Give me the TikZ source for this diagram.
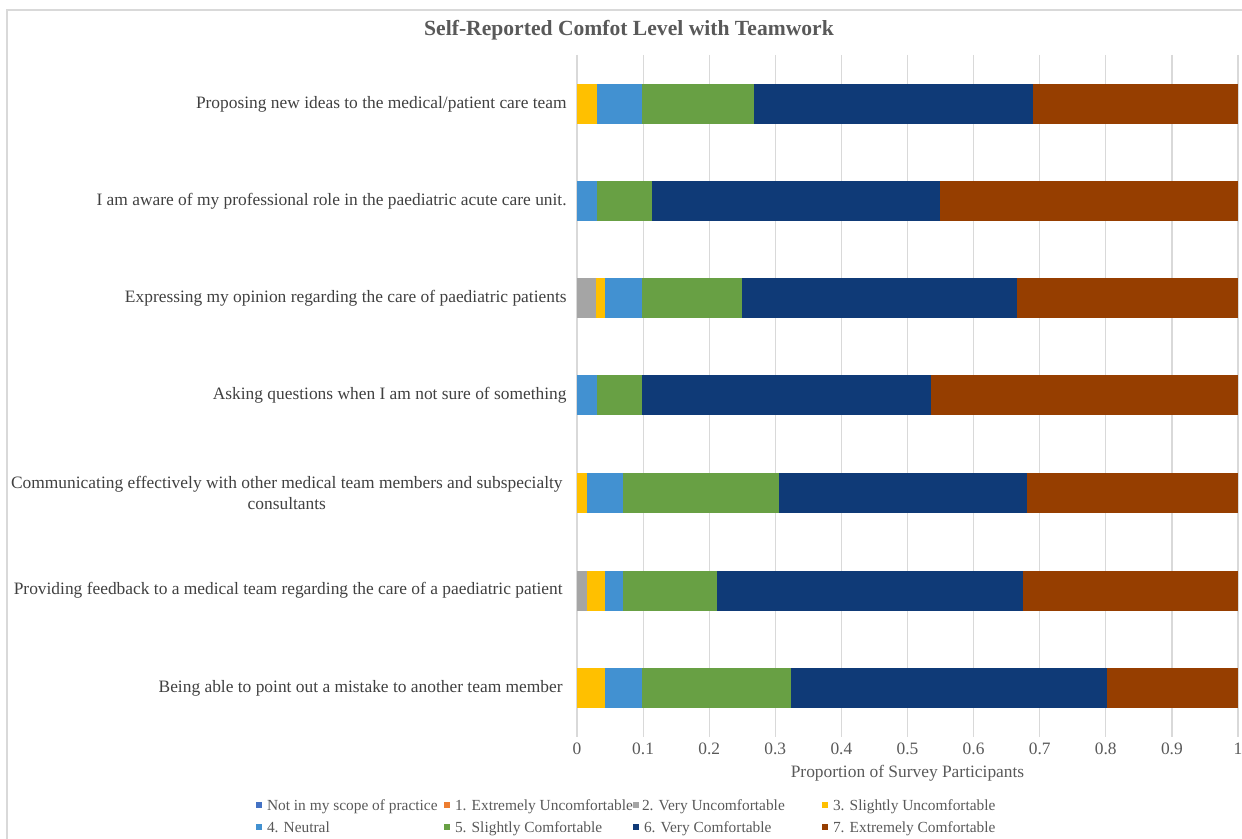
\documentclass[tikz,border=0pt]{standalone}
\usepackage{fontspec}
\setmainfont{Liberation Serif}
\usetikzlibrary{positioning}

\definecolor{scopeblue}{HTML}{4472C4}
\definecolor{extunc}{HTML}{ED7D31}
\definecolor{veryunc}{HTML}{A5A5A5}
\definecolor{slightunc}{HTML}{FFC000}
\definecolor{neutral}{HTML}{4291D1}
\definecolor{slightcom}{HTML}{68A044}
\definecolor{verycom}{HTML}{0F3A77}
\definecolor{extcom}{HTML}{963E00}
\definecolor{gridgray}{HTML}{D9D9D9}
\definecolor{textgray}{HTML}{404040}
\definecolor{titlegray}{HTML}{595959}

\tikzset{
  catlabel/.style={anchor=east, inner sep=0pt, text=textgray, font=\fontsize{8.7}{10.2}\selectfont},
  ticklabel/.style={inner sep=0pt, text=titlegray, font=\fontsize{8.7}{10.2}\selectfont},
  legmark/.style={inner sep=0pt, minimum size=3.2pt},
  legtext/.style={anchor=west, inner sep=0pt, text height=1.45ex, text depth=0.35ex, text=titlegray, font=\fontsize{7.7}{9}\selectfont},
}

\begin{document}
\begin{tikzpicture}[x=0.5pt, y=-0.5pt]
  \useasboundingbox (0,0) rectangle (1242,839);
  \draw[gridgray, line width=0.6pt] (7,839) -- (7,10) -- (1242,10);

  \node[font=\bfseries\fontsize{10.8}{12.5}\selectfont, text=titlegray, inner sep=0pt] (title) at (629,30) {Self-Reported Comfot Level with Teamwork};

  \begin{scope}[xshift=288.5pt, x=330.5pt, y=-0.5pt]
    \foreach \k in {0,0.1,...,1.01}
      \draw[gridgray, line width=0.6pt] (\k,55) -- (\k,737);

    \fill[slightunc] (0,84) rectangle (0.030,124);
    \fill[neutral] (0.030,84) rectangle (0.098,124);
    \fill[slightcom] (0.098,84) rectangle (0.268,124);
    \fill[verycom] (0.268,84) rectangle (0.690,124);
    \fill[extcom] (0.690,84) rectangle (1,124);

    \fill[neutral] (0,181) rectangle (0.030,221);
    \fill[slightcom] (0.030,181) rectangle (0.113,221);
    \fill[verycom] (0.113,181) rectangle (0.549,221);
    \fill[extcom] (0.549,181) rectangle (1,221);

    \fill[veryunc] (0,278.5) rectangle (0.028,318.5);
    \fill[slightunc] (0.028,278.5) rectangle (0.042,318.5);
    \fill[neutral] (0.042,278.5) rectangle (0.098,318.5);
    \fill[slightcom] (0.098,278.5) rectangle (0.250,318.5);
    \fill[verycom] (0.250,278.5) rectangle (0.666,318.5);
    \fill[extcom] (0.666,278.5) rectangle (1,318.5);

    \fill[neutral] (0,375.5) rectangle (0.030,415.5);
    \fill[slightcom] (0.030,375.5) rectangle (0.098,415.5);
    \fill[verycom] (0.098,375.5) rectangle (0.536,415.5);
    \fill[extcom] (0.536,375.5) rectangle (1,415.5);

    \fill[slightunc] (0,473) rectangle (0.015,513);
    \fill[neutral] (0.015,473) rectangle (0.070,513);
    \fill[slightcom] (0.070,473) rectangle (0.306,513);
    \fill[verycom] (0.306,473) rectangle (0.681,513);
    \fill[extcom] (0.681,473) rectangle (1,513);

    \fill[veryunc] (0,570.5) rectangle (0.015,610.5);
    \fill[slightunc] (0.015,570.5) rectangle (0.042,610.5);
    \fill[neutral] (0.042,570.5) rectangle (0.070,610.5);
    \fill[slightcom] (0.070,570.5) rectangle (0.212,610.5);
    \fill[verycom] (0.212,570.5) rectangle (0.675,610.5);
    \fill[extcom] (0.675,570.5) rectangle (1,610.5);

    \fill[slightunc] (0,668) rectangle (0.042,708);
    \fill[neutral] (0.042,668) rectangle (0.098,708);
    \fill[slightcom] (0.098,668) rectangle (0.324,708);
    \fill[verycom] (0.324,668) rectangle (0.802,708);
    \fill[extcom] (0.802,668) rectangle (1,708);

    \foreach \v [count=\i] in {0,0.1,0.2,0.3,0.4,0.5,0.6,0.7,0.8,0.9,1}
      \node[ticklabel] (tick\i) at (\v,749) {\v};
    \node[ticklabel] (xtitle) at (0.5,773) {Proportion of Survey Participants};
  \end{scope}

  \node[catlabel] (cat1) at (567,104) {Proposing new ideas to the medical/patient care team};
  \node[catlabel] (cat2) at (567,201) {I am aware of my professional role in the paediatric acute care unit.};
  \node[catlabel] (cat3) at (567,298.5) {Expressing my opinion regarding the care of paediatric patients};
  \node[catlabel] (cat4) at (567,395.5) {Asking questions when I am not sure of something};
  \node[catlabel, align=center] (cat5) at (563,493) {Communicating effectively with other medical team members and subspecialty\\consultants};
  \node[catlabel] (cat6) at (563,590.5) {Providing feedback to a medical team regarding the care of a paediatric patient};
  \node[catlabel] (cat7) at (563,688) {Being able to point out a mistake to another team member};

  \node[legmark, fill=scopeblue] (m0) at (259,805) {};
  \node[legtext, right=2pt of m0] (l0) {Not in my scope of practice};
  \node[legmark, fill=extunc] (m1) at (447,805) {};
  \node[legtext, right=2pt of m1] (l1) {1. Extremely Uncomfortable};
  \node[legmark, fill=veryunc] (m2) at (636,805) {};
  \node[legtext, right=1pt of m2] (l2) {2. Very Uncomfortable};
  \node[legmark, fill=slightunc] (m3) at (825,805) {};
  \node[legtext, right=2pt of m3] (l3) {3. Slightly Uncomfortable};
  \node[legmark, fill=neutral] (m4) at (259,827) {};
  \node[legtext, right=2pt of m4] (l4) {4. Neutral};
  \node[legmark, fill=slightcom] (m5) at (447,827) {};
  \node[legtext, right=2pt of m5] (l5) {5. Slightly Comfortable};
  \node[legmark, fill=verycom] (m6) at (636,827) {};
  \node[legtext, right=2pt of m6] (l6) {6. Very Comfortable};
  \node[legmark, fill=extcom] (m7) at (825,827) {};
  \node[legtext, right=2pt of m7] (l7) {7. Extremely Comfortable};
\end{tikzpicture}
\end{document}
